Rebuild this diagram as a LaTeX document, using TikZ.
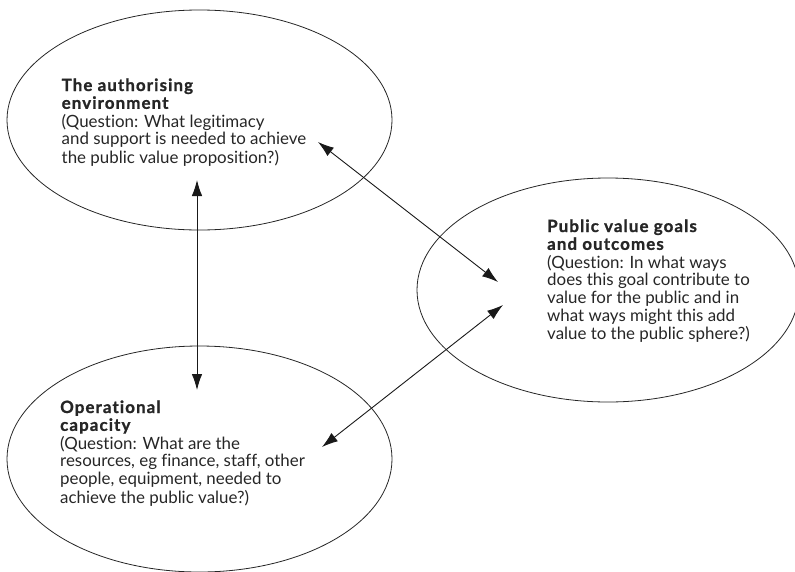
\documentclass[tikz,border=0pt]{standalone}
\usepackage{fontspec}
\setmainfont{Lato}[Ligatures=NoCommon,BoldFeatures={FakeBold=1.2,LetterSpace=6.5}]
\usetikzlibrary{shapes.geometric,arrows.meta}
\begin{document}
\begin{tikzpicture}[x=1pt,y=-1pt,
  areabox/.style={draw=black!85, line width=0.8pt, ellipse, inner sep=0pt},
  desctext/.style={anchor=base west, inner sep=0pt, text=black!85,
    font=\fontsize{16.9}{17.6}\selectfont},
  link/.style={draw=black!90, line width=0.9pt,
    {Latex[length=16pt,width=10.5pt]}-{Latex[length=16pt,width=10.5pt]}}]
  \useasboundingbox (0,0) rectangle (795,571);

  % the three areas of the strategic triangle
  \node[areabox, minimum width=385pt, minimum height=220pt] (auth) at (199.5,120) {};
  \node[areabox, minimum width=382pt, minimum height=224pt] (goals) at (608,290) {};
  \node[areabox, minimum width=385pt, minimum height=226pt] (ops) at (199.5,459) {};

  % descriptions; each block hangs from the baseline of its first line
  \node[desctext] (authtext) at (61.5,91) {\begin{tabular}[t]{@{}l@{}}
    \textbf{The authorising}\\\textbf{environment}\\(Question: What legitimacy\\
    and support is needed to achieve\\the public value proposition?)\end{tabular}};
  \node[desctext] (goalstext) at (547,232) {\begin{tabular}[t]{@{}l@{}}
    \textbf{Public value goals}\\\textbf{and outcomes}\\(Question: In what ways\\
    does this goal contribute to\\value for the public and in\\what ways might this add\\
    value to the public sphere?)\end{tabular}};
  \node[desctext] (opstext) at (60,413) {\begin{tabular}[t]{@{}l@{}}
    \textbf{Operational}\\\textbf{capacity}\\(Question: What are the\\
    resources, eg finance, staff, other\\people, equipment, needed to\\
    achieve the public value?)\end{tabular}};

  % arrow end points inside the areas
  \coordinate (authV) at (197,180);
  \coordinate (opsV) at (197,390);
  \coordinate (authD) at (318,142);
  \coordinate (goalsU) at (498,282);
  \coordinate (goalsL) at (503,305);
  \coordinate (opsD) at (322,447);

  \draw[link] (authV) -- (opsV);
  \draw[link] (authD) -- (goalsU);
  \draw[link] (goalsL) -- (opsD);
\end{tikzpicture}
\end{document}
